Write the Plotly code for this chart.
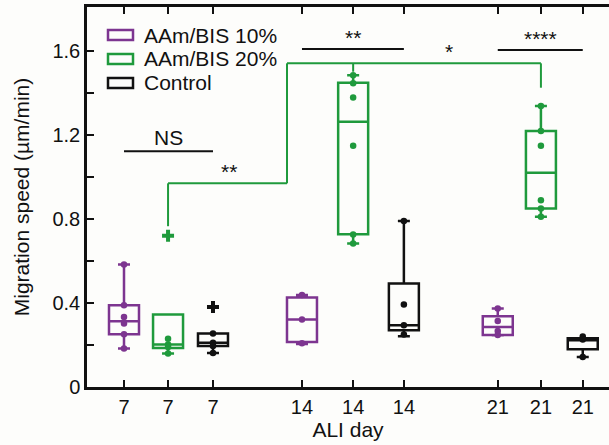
import plotly.graph_objects as go

# ---------------- data ----------------
tick_pos = [1.0, 1.99, 3.0, 5.0, 6.15, 7.29, 9.4, 10.37, 11.31]
tick_labels = ["7", "7", "7", "14", "14", "14", "21", "21", "21"]

series_names = ["AAm/BIS 10%", "AAm/BIS 20%", "Control"]
series_colors = ["#7d3590", "#1f9a3c", "#111111"]

pos_10 = [1.0, 5.0, 9.4]
pos_20 = [1.99, 6.15, 10.37]
pos_ctrl = [3.0, 7.29, 11.31]

# box statistics per series: (lowerfence, q1, median, q3, upperfence) for day 7, 14, 21
lf_10 = [0.183, 0.205, 0.246]
q1_10 = [0.251, 0.214, 0.248]
med_10 = [0.313, 0.321, 0.286]
q3_10 = [0.389, 0.426, 0.337]
uf_10 = [0.583, 0.438, 0.373]

lf_20 = [0.159, 0.683, 0.810]
q1_20 = [0.186, 0.727, 0.849]
med_20 = [0.202, 1.262, 1.019]
q3_20 = [0.345, 1.448, 1.218]
uf_20 = [0.345, 1.483, 1.337]

lf_ctrl = [0.162, 0.241, 0.143]
q1_ctrl = [0.195, 0.270, 0.180]
med_ctrl = [0.211, 0.294, 0.222]
q3_ctrl = [0.254, 0.492, 0.232]
uf_ctrl = [0.254, 0.790, 0.232]

# individual points for each box
pts_10 = [[0.583, 0.389, 0.333, 0.302, 0.251, 0.183],
          [0.438, 0.321, 0.208],
          [0.373, 0.314, 0.267, 0.248]]
pts_20 = [[0.230, 0.202, 0.190, 0.159],
          [1.483, 1.445, 1.378, 1.148, 0.725, 0.683],
          [1.337, 1.218, 1.148, 0.889, 0.849, 0.810]]
pts_ctrl = [[0.254, 0.211, 0.195, 0.162],
            [0.790, 0.392, 0.294, 0.250],
            [0.240, 0.226, 0.143]]

# outliers (group index, value)
out_20 = [(0, 0.720)]
out_ctrl = [(0, 0.381)]

box_width = 0.674

fig = go.Figure()

series = [
    (series_names[0], series_colors[0], pos_10, lf_10, q1_10, med_10, q3_10, uf_10, pts_10, []),
    (series_names[1], series_colors[1], pos_20, lf_20, q1_20, med_20, q3_20, uf_20, pts_20, out_20),
    (series_names[2], series_colors[2], pos_ctrl, lf_ctrl, q1_ctrl, med_ctrl, q3_ctrl, uf_ctrl, pts_ctrl, out_ctrl),
]

for name, col, pos, lf, q1, med, q3, uf, pts, outs in series:
    fig.add_trace(go.Box(
        name=name, x=pos, lowerfence=lf, q1=q1, median=med, q3=q3, upperfence=uf,
        boxpoints=False, width=box_width, whiskerwidth=0.4,
        line=dict(color=col, width=2.5), fillcolor="rgba(0,0,0,0)",
        showlegend=False, hoverinfo="skip",
    ))
    xs, ys = [], []
    for p, vals in zip(pos, pts):
        for v in vals:
            xs.append(p)
            ys.append(v)
    fig.add_trace(go.Scatter(x=xs, y=ys, mode="markers", showlegend=False,
                             marker=dict(color=col, size=6.5, symbol="circle"),
                             hoverinfo="skip"))
    if outs:
        fig.add_trace(go.Scatter(x=[pos[i] for i, v in outs], y=[v for i, v in outs],
                                 mode="markers", showlegend=False,
                                 marker=dict(color=col, size=10, symbol="cross"),
                                 hoverinfo="skip"))

# ---------------- significance brackets ----------------
black = "#111111"
green = series_colors[1]
lw = 2
shapes = []
def seg(x0, y0, x1, y1, c):
    shapes.append(dict(type="line", xref="x", yref="y", x0=x0, y0=y0, x1=x1, y1=y1,
                       line=dict(color=c, width=lw)))

# NS (day 7)
seg(pos_10[0], 1.122, pos_ctrl[0], 1.122, black)
# ** (day 14)
seg(pos_10[1], 1.608, pos_ctrl[1], 1.608, black)
# **** (day 21)
seg(pos_10[2], 1.603, pos_ctrl[2], 1.603, black)
# green step bracket
step_x = pos_10[1] - box_width / 2
seg(pos_20[0], 0.765, pos_20[0], 0.969, green)
seg(pos_20[0], 0.969, step_x, 0.969, green)
seg(step_x, 0.969, step_x, 1.540, green)
seg(step_x, 1.540, pos_20[2], 1.540, green)
seg(pos_20[1], 1.540, pos_20[1], 1.500, green)
seg(pos_20[2], 1.540, pos_20[2], 1.424, green)

font_family = "Liberation Sans, Arial, Helvetica, sans-serif"
fs = 21
annotations = [
    dict(x=pos_20[0], y=1.122, text="NS", yshift=0),
    dict(x=pos_20[1], y=1.608, text="**", yshift=-2),
    dict(x=pos_20[2], y=1.603, text="****", yshift=-2),
    dict(x=3.36, y=0.969, text="**", yshift=-2),
    dict(x=8.3, y=1.540, text="*", yshift=-2),
]
for a in annotations:
    a.update(xref="x", yref="y", showarrow=False, yanchor="bottom",
             font=dict(family=font_family, size=fs, color=black))

# ---------------- legend (drawn in the plot's domain) ----------------
W, H = 609, 445
ML, MR, MT, MB = 87, 0, 7, 58
PW, PH = W - ML - MR, H - MT - MB
def px_x(p):
    return (p - ML) / PW
def px_y(p):
    return (H - MB - p) / PH
leg_rows = [35, 59, 83]
for name, col, ry in zip(series_names, series_colors, leg_rows):
    shapes.append(dict(type="rect", xref="x domain", yref="y domain",
                       x0=px_x(108), x1=px_x(133), y0=px_y(ry + 5), y1=px_y(ry - 5),
                       line=dict(color=col, width=2.5), fillcolor="rgba(0,0,0,0)"))
    annotations.append(dict(xref="x domain", yref="y domain", x=px_x(142), y=px_y(ry),
                            xanchor="left", yanchor="middle", text=name, showarrow=False,
                            font=dict(family=font_family, size=fs, color=black)))

fig.update_layout(
    width=W, height=H,
    margin=dict(l=ML, r=MR, t=MT, b=MB, autoexpand=False),
    paper_bgcolor="#fdfdfb", plot_bgcolor="#fdfdfb",
    font=dict(family=font_family, size=fs, color="#111111"),
    shapes=shapes, annotations=annotations,
    showlegend=False,
    boxmode="overlay",
)

fig.update_xaxes(
    range=[0.1685, 11.9], tickmode="array", tickvals=tick_pos, ticktext=tick_labels,
    showline=True, linecolor="#111111", linewidth=2.5, mirror="ticks",
    ticks="inside", ticklen=7, tickwidth=2, tickcolor="#111111",
    showgrid=False, zeroline=False, automargin=False,
    title=dict(text="ALI day", standoff=2, font=dict(size=fs)),
    tickfont=dict(size=fs - 1),
)
y_ticks = [0, 0.2, 0.4, 0.6, 0.8, 1.0, 1.2, 1.4, 1.6]
y_labels = ["0", "", "0.4", "", "0.8", "", "1.2", "", "1.6"]
fig.update_yaxes(
    range=[0, 1.808], tickmode="array", tickvals=y_ticks, ticktext=y_labels,
    showline=True, linecolor="#111111", linewidth=2.5, mirror=False,
    ticks="inside", ticklen=7, tickwidth=2, tickcolor="#111111",
    showgrid=False, zeroline=False, automargin=False,
    title=dict(text="Migration speed (µm/min)", standoff=18, font=dict(size=fs)),
    tickfont=dict(size=fs - 1),
)

fig.write_html("out.html", config={"displayModeBar": False},
               post_script="document.body.style.margin='0px';document.body.style.background='#fdfdfb';document.body.style.overflow='hidden';")
